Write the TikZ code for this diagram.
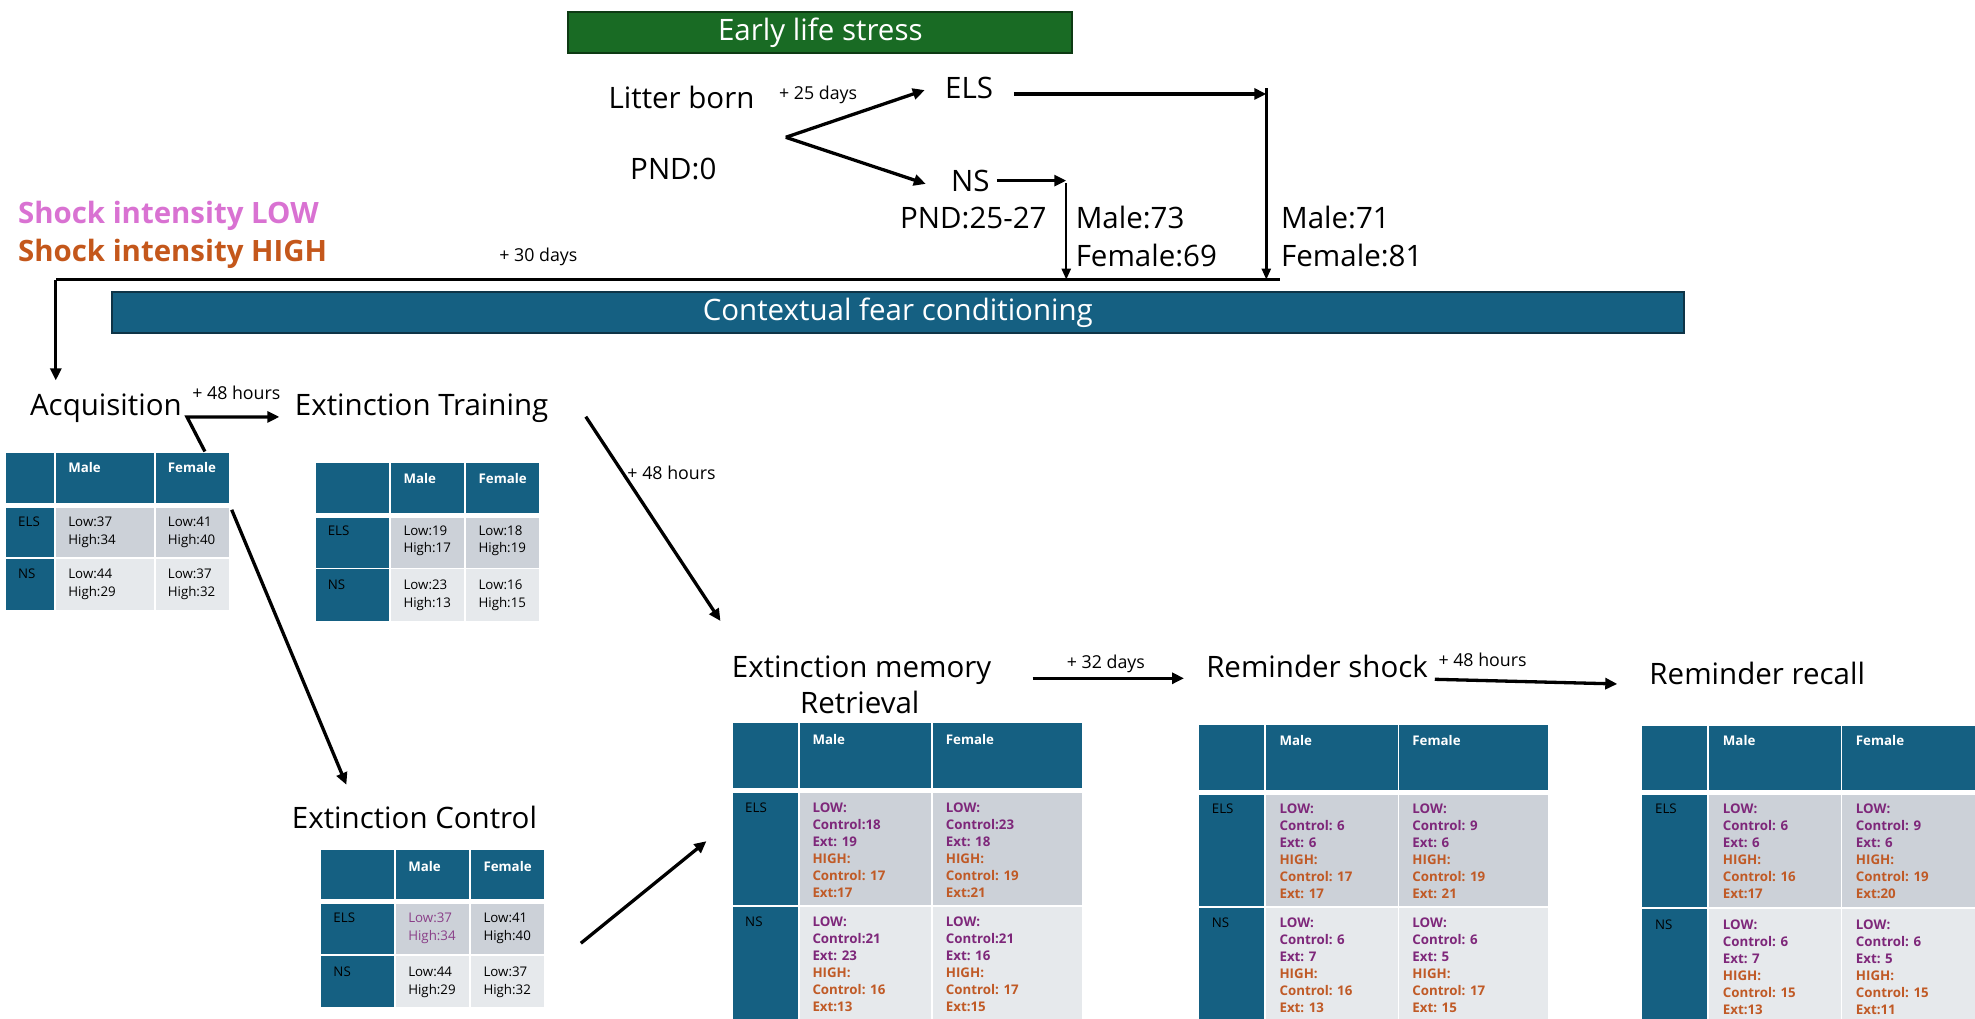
\documentclass[tikz,border=0pt]{standalone}
\usepackage{fontspec}
\setmainfont{Open Sans}
\usetikzlibrary{arrows.meta,calc,fit}

\definecolor{tblue}{HTML}{156082}
\definecolor{tblueline}{HTML}{0E3447}
\definecolor{elsgreen}{HTML}{196B24}
\definecolor{elsgreenline}{HTML}{0D3A13}
\definecolor{rowels}{HTML}{CCD1D8}
\definecolor{rowns}{HTML}{E6E9EC}
\definecolor{lowc}{HTML}{7E277A}
\definecolor{highc}{HTML}{C05A26}
\definecolor{leglow}{HTML}{D972D2}
\definecolor{leghigh}{HTML}{C4571B}
\definecolor{ctlpurple}{HTML}{8A3F88}

\newcommand\bigfont{\fontsize{29.5}{35}\selectfont}
\newcommand\smallfont{\fontsize{17.8}{21}\selectfont}
\newcommand\tabfont{\fontsize{13.3}{17.7}\selectfont}
\newcommand\tabfontb{\fontsize{13.3}{17}\selectfont\bfseries}
\newcommand\legfont{\fontsize{29.4}{35}\selectfont\bfseries}

% table background: name, column edges x0..x3, row edges y0..y3
\newcommand\tgrid[9]{%
  \fill[tblue] (#2,#6) rectangle (#5,#7);
  \fill[tblue] (#2,#7) rectangle (#3,#9);
  \fill[rowels] (#3,#7) rectangle (#5,#8);
  \fill[rowns] (#3,#8) rectangle (#5,#9);
  \draw[white,line width=1.9pt] (#3,#6) -- (#3,#9) (#4,#6) -- (#4,#9) (#2,#8) -- (#5,#8);
  \draw[white,line width=4.9pt] (#2,#7) -- (#5,#7);
  \coordinate (#1-nw) at (#2,#6);
  \coordinate (#1-se) at (#5,#9);
  \node[fit=(#1-nw)(#1-se),inner sep=0pt] (#1) {};
}
% header and row labels: name, x of label column, x of male, x of female, y header, y ELS, y NS
\newcommand\tlabels[7]{%
  \node[hdr] (#1-male) at (#3,#5) {Male};
  \node[hdr] (#1-female) at (#4,#5) {Female};
  \node[rowlab] (#1-els) at (#2,#6) {ELS};
  \node[rowlab] (#1-ns) at (#2,#7) {NS};
}
% six-line cell of the later sessions
\newcommand\lohi[4]{\textcolor{lowc}{LOW:}\\\textcolor{lowc}{#1}\\\textcolor{lowc}{#2}\\\textcolor{highc}{HIGH:}\\\textcolor{highc}{#3}\\\textcolor{highc}{#4}}

\begin{document}
\begin{tikzpicture}[x=1.2596pt,y=-1.2596pt,
  hdr/.style={anchor=north west,inner sep=0pt,text=white,font=\tabfontb},
  rowlab/.style={anchor=north west,inner sep=0pt,font=\tabfont},
  celltxt/.style={anchor=north west,inner sep=0pt,align=left,font=\tabfont},
  cellbold/.style={anchor=north west,inner sep=0pt,align=left,font=\tabfontb},
  lab/.style={anchor=base west,inner sep=0pt,font=\bigfont},
  tinylab/.style={anchor=base west,inner sep=0pt,font=\smallfont},
  conn/.style={line width=3.3pt,-{Triangle[length=12pt,width=11pt]}},
  plainconn/.style={line width=3.3pt},
  dropline/.style={line width=2.4pt,-{Triangle[length=11pt,width=9pt]}},
]
\useasboundingbox (0,0) rectangle (1568,809);
\clip (0,0) rectangle (1568,809);

% ---------- early life stress phase ----------
\node[draw=elsgreenline,fill=elsgreen,line width=2pt,minimum width=504pt,minimum height=41pt,
      inner sep=0pt,text=white,font=\bigfont] (elsbar) at (651.3,25.7) {Early life stress};

\node[lab] (litter) at (483,86) {Litter born};
\node[lab] (pnd0) at (500.2,142.4) {PND:0};
\node[tinylab] (d25) at (618.4,79) {+ 25 days};
\node[lab] (els) at (750.2,78) {ELS};
\node[lab] (ns) at (755,152.2) {NS};
\node[lab] (pnd25) at (714.5,181.3) {PND:25-27};
\node[lab] (m73) at (853.9,181.3) {Male:73};
\node[lab] (f69) at (853.9,211.7) {Female:69};
\node[lab] (m71) at (1017,181.3) {Male:71};
\node[lab] (f81) at (1017,211.7) {Female:81};

\node[anchor=base west,inner sep=0pt,font=\legfont,text=leglow] (leglo) at (14.2,177.3) {Shock intensity LOW};
\node[anchor=base west,inner sep=0pt,font=\legfont,text=leghigh] (leghi) at (14.2,207.8) {Shock intensity HIGH};
\node[tinylab] (d30) at (396.3,208) {+ 30 days};

\coordinate (fork) at ($(litter.base east)+(24.7,23)$);
\draw[conn] (fork) -- ($(els.base west)+(-16,-6.5)$);
\draw[conn] (fork) -- ($(ns.base west)+(-20,-6.2)$);

\coordinate (hlR) at (1016,222);
\coordinate (hlL) at (44.3,222);
\coordinate (elsdrop) at ($(els.base east)+(216.8,-3.4)$);
\coordinate (nsdrop) at ($(ns.base east)+(60.7,-8.8)$);
\draw[conn] ($(els.base east)+(16.4,-3.4)$) -- (elsdrop);
\draw[conn] ($(ns.base east)+(5.6,-8.8)$) -- (nsdrop);
\draw[dropline] ($(elsdrop)+(0,-4.5)$) -- (elsdrop |- hlR);
\draw[dropline] ($(nsdrop)+(0,2)$) -- (nsdrop |- hlR);

% ---------- contextual fear conditioning ----------
\node[draw=tblueline,fill=tblue,line width=2pt,minimum width=1572pt,minimum height=41.6pt,
      inner sep=0pt,text=white,font=\bigfont] (cfcbar) at (712.8,248.1) {Contextual fear conditioning};

\node[lab] (acq) at (23.7,329.5) {Acquisition};
\node[tinylab] (h48a) at (152.5,317) {+ 48 hours};
\node[lab] (trn) at (234,329.5) {Extinction Training};
\node[tinylab] (h48b) at (498,381) {+ 48 hours};
\node[lab] (ctl) at (231.6,658) {Extinction Control};
\node[lab] (retA) at (580.9,537.7) {Extinction memory};
\node[lab] (retB) at (635.1,566.8) {Retrieval};
\node[tinylab] (d32) at (846.8,531) {+ 32 days};
\node[lab] (rem) at (957.5,537.7) {Reminder shock};
\node[tinylab] (h48c) at (1141.9,529) {+ 48 hours};
\node[lab] (rec) at (1309.4,543.8) {Reminder recall};

\draw[plainconn] (hlR) -- (hlL);
\draw[conn] (hlL) -- ($(hlL |- acq.base west)+(0,-27.5)$);

% ---------- tables ----------
\tgrid{acqtab}{4.5}{43.9}{122.9}{181.7}{359.9}{401}{443.2}{484.3}
\tlabels{acqtab}{14.3}{54.1}{133.1}{367.2}{410.4}{451.4}
\node[celltxt] (acqtab-em) at (54.1,410.4) {Low:37\\High:34};
\node[celltxt] (acqtab-ef) at (133.1,410.4) {Low:41\\High:40};
\node[celltxt] (acqtab-nm) at (54.1,451.4) {Low:44\\High:29};
\node[celltxt] (acqtab-nf) at (133.1,451.4) {Low:37\\High:32};

\tgrid{trntab}{250.6}{309.5}{369.05}{427.9}{367.8}{409.3}{451.3}{492.8}
\tlabels{trntab}{260.1}{320.2}{379.8}{376}{417}{460.1}
\node[celltxt] (trntab-em) at (320.2,417) {Low:19\\High:17};
\node[celltxt] (trntab-ef) at (379.8,417) {Low:18\\High:19};
\node[celltxt] (trntab-nm) at (320.2,460.1) {Low:23\\High:13};
\node[celltxt] (trntab-nf) at (379.8,460.1) {Low:16\\High:15};

\tgrid{ctltab}{254.6}{313.5}{373}{431.9}{674.8}{716}{758}{799.2}
\tlabels{ctltab}{264.6}{324}{383.7}{683.7}{724.7}{767.6}
\node[celltxt,text=ctlpurple] (ctltab-em) at (324,724.7) {Low:37\\High:34};
\node[celltxt] (ctltab-ef) at (383.7,724.7) {Low:41\\High:40};
\node[celltxt] (ctltab-nm) at (324,767.6) {Low:44\\High:29};
\node[celltxt] (ctltab-nf) at (383.7,767.6) {Low:37\\High:32};

\tgrid{rettab}{581.7}{634}{739.8}{858.8}{574.3}{627.8}{719.2}{870}
\tlabels{rettab}{591.5}{644.9}{750.8}{583.2}{637.2}{727.9}
\node[cellbold] (rettab-em) at (644.9,637.2) {\lohi{Control:18}{Ext: 19}{Control: 17}{Ext:17}};
\node[cellbold] (rettab-ef) at (750.8,637.2) {\lohi{Control:23}{Ext: 18}{Control: 19}{Ext:21}};
\node[cellbold] (rettab-nm) at (644.9,727.9) {\lohi{Control:21}{Ext: 23}{Control: 16}{Ext:13}};
\node[cellbold] (rettab-nf) at (750.8,727.9) {\lohi{Control:21}{Ext: 16}{Control: 17}{Ext:15}};

\tgrid{remtab}{952.1}{1004.4}{1110.3}{1229.2}{575.6}{628.9}{720.2}{870}
\tlabels{remtab}{962}{1015.7}{1121.2}{583.7}{637.9}{728.7}
\node[cellbold] (remtab-em) at (1015.7,637.9) {\lohi{Control: 6}{Ext: 6}{Control: 17}{Ext: 17}};
\node[cellbold] (remtab-ef) at (1121.2,637.9) {\lohi{Control: 9}{Ext: 6}{Control: 19}{Ext: 21}};
\node[cellbold] (remtab-nm) at (1015.7,728.7) {\lohi{Control: 6}{Ext: 7}{Control: 16}{Ext: 13}};
\node[cellbold] (remtab-nf) at (1121.2,728.7) {\lohi{Control: 6}{Ext: 5}{Control: 17}{Ext: 15}};

\tgrid{rectab}{1303.9}{1356.3}{1462}{1600}{576.4}{629.5}{720.8}{870}
\tlabels{rectab}{1313.9}{1367.7}{1473.3}{583.7}{637.9}{730}
\node[cellbold] (rectab-em) at (1367.7,637.9) {\lohi{Control: 6}{Ext: 6}{Control: 16}{Ext:17}};
\node[cellbold] (rectab-ef) at (1473.3,637.9) {\lohi{Control: 9}{Ext: 6}{Control: 19}{Ext:20}};
\node[cellbold] (rectab-nm) at (1367.7,730) {\lohi{Control: 6}{Ext: 7}{Control: 15}{Ext:13}};
\node[cellbold] (rectab-nf) at (1473.3,730) {\lohi{Control: 6}{Ext: 5}{Control: 15}{Ext:11}};

% ---------- session connectors ----------
\draw[conn] ($(acqtab.north east)+(-19.2,-1.3)$) -- ($(acq.base east)+(4,1.5)$) -- ($(trn.base west)+(-12.2,1.5)$);
\draw[conn] ($(acqtab.north east)+(2.1,45)$) -- ($(ctl.base west)+(43.4,-35)$);
\draw[conn] ($(trn.base east)+(29.6,1.3)$) -- ($(retA.base west)+(-8.9,-44.7)$);
\draw[conn] ($(ctltab.north east)+(29.1,74.2)$) -- ($(rettab.north west)+(-20.7,93.7)$);
\draw[conn] ($(retA.base east)+(32.6,0.8)$) -- ($(rem.base west)+(-17.5,0.8)$);
\draw[conn] ($(rem.base east)+(5.3,1.6)$) -- ($(rec.base west)+(-25.4,-0.8)$);
\end{tikzpicture}
\end{document}
